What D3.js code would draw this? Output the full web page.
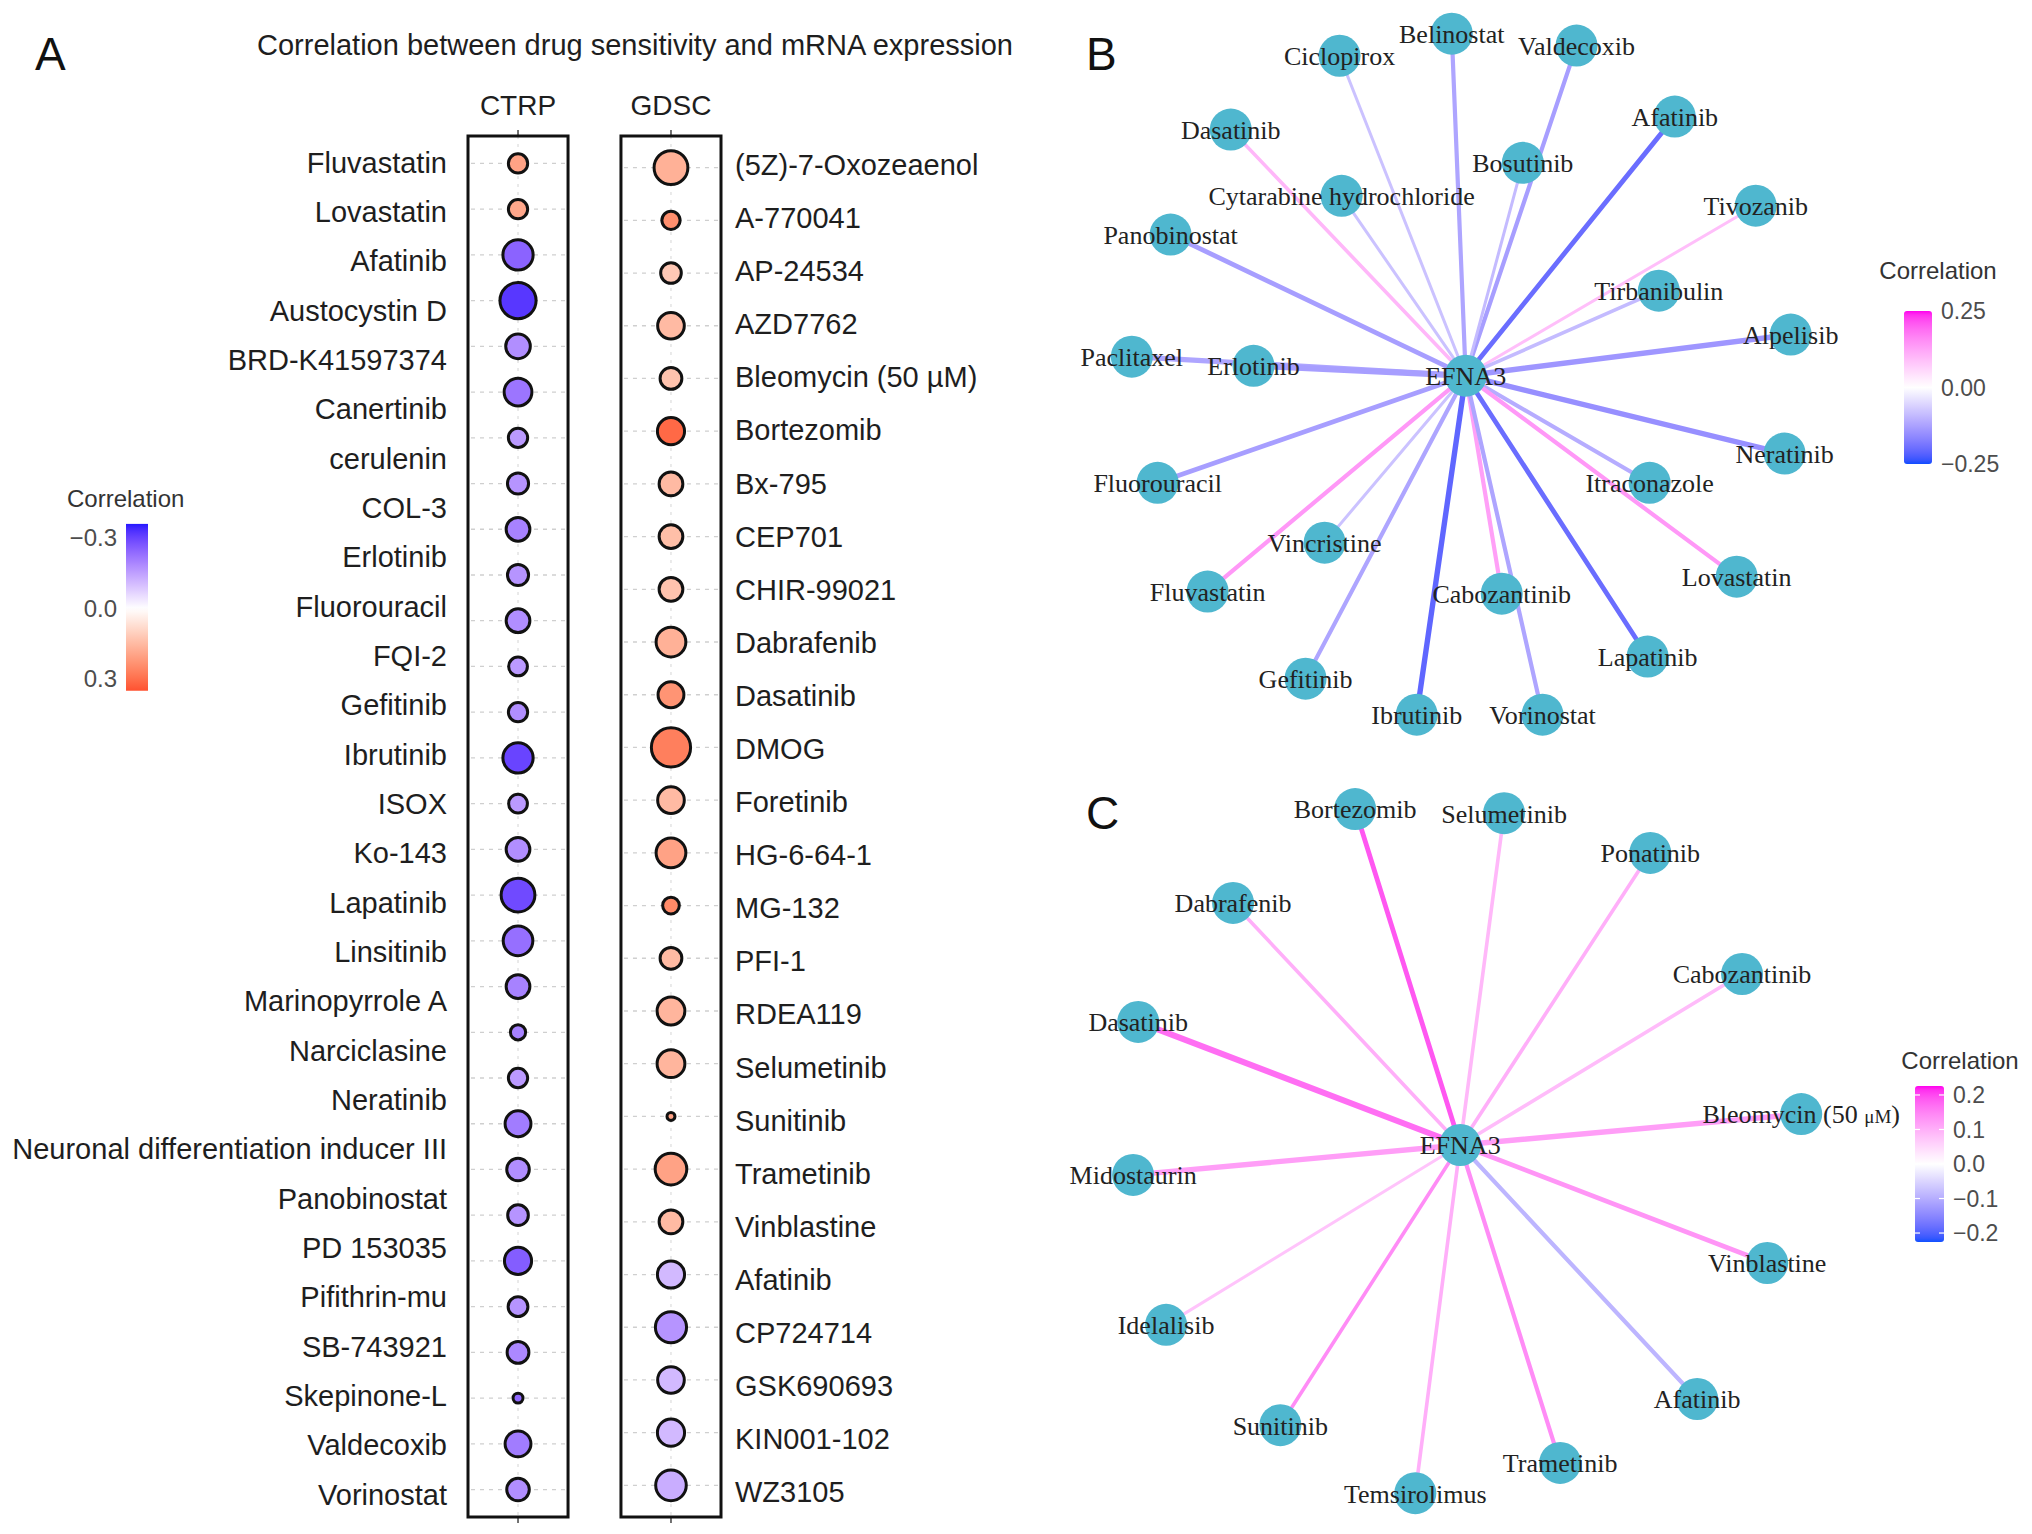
<!DOCTYPE html>
<html><head><meta charset="utf-8">
<script src="https://cdn.jsdelivr.net/npm/d3@7"></script>
<style>body{margin:0;background:#fff}</style>
</head><body><svg id="fig" width="2032" height="1534"></svg>
<script>
// ---------------- Panel A data ----------------
const ctrpDrugs = ["Fluvastatin","Lovastatin","Afatinib","Austocystin D","BRD-K41597374","Canertinib","cerulenin","COL-3","Erlotinib","Fluorouracil","FQI-2","Gefitinib","Ibrutinib","ISOX","Ko-143","Lapatinib","Linsitinib","Marinopyrrole A","Narciclasine","Neratinib","Neuronal differentiation inducer III","Panobinostat","PD 153035","Pifithrin-mu","SB-743921","Skepinone-L","Valdecoxib","Vorinostat"];
// the CTRP column of the figure shows 30 points
const ctrpCorr = [0.2,0.19,-0.25,-0.32,-0.18,-0.22,-0.16,-0.17,-0.2,-0.17,-0.18,-0.16,-0.18,-0.3,-0.16,-0.18,-0.29,-0.23,-0.2,-0.2,-0.16,-0.21,-0.18,-0.17,-0.26,-0.17,-0.19,-0.24,-0.21,-0.18];
const ctrpSig = [6.3,6.3,14.1,19.6,9.7,12.1,6.3,7.4,9.1,7.4,9.1,6.0,6.3,14.1,6.0,9.1,17.3,13.6,9.1,4.2,6.3,10.6,8.3,7.1,11.6,6.6,7.8,2.1,10.6,8.3];
const gdscDrugs = ["(5Z)-7-Oxozeaenol","A-770041","AP-24534","AZD7762","Bleomycin (50 µM)","Bortezomib","Bx-795","CEP701","CHIR-99021","Dabrafenib","Dasatinib","DMOG","Foretinib","HG-6-64-1","MG-132","PFI-1","RDEA119","Selumetinib","Sunitinib","Trametinib","Vinblastine","Afatinib","CP724714","GSK690693","KIN001-102","WZ3105"];
const gdscCorr = [0.17,0.24,0.12,0.15,0.13,0.31,0.15,0.14,0.13,0.17,0.23,0.27,0.15,0.2,0.25,0.15,0.16,0.16,0.2,0.2,0.15,-0.11,-0.17,-0.11,-0.11,-0.13];
const gdscSig = [17.3,5.7,7.1,11.2,7.8,11.6,9.1,9.1,9.1,13.7,10.6,22.8,11.2,13.7,4.9,7.8,12.1,12.1,1.5,15.3,9.1,11.6,14.9,11.2,11.6,14.4];
const sources = ["CTRP","GDSC"];
const corrTicksA = [-0.3, 0, 0.3];

// ---------------- Panel B data ----------------
const hubName = "EFNA3";
const netBDrugs = ["Belinostat","Ciclopirox","Valdecoxib","Afatinib","Dasatinib","Bosutinib","Cytarabine hydrochloride","Tivozanib","Panobinostat","Tirbanibulin","Alpelisib","Paclitaxel","Erlotinib","Neratinib","Fluorouracil","Itraconazole","Vincristine","Lovastatin","Fluvastatin","Cabozantinib","Gefitinib","Lapatinib","Ibrutinib","Vorinostat"];
const netBCorr = [-0.12,-0.08,-0.13,-0.2,0.1,-0.09,-0.08,0.09,-0.13,-0.09,-0.14,-0.12,-0.13,-0.15,-0.13,-0.11,-0.08,0.14,0.14,0.13,-0.12,-0.2,-0.21,-0.12];
const netBSig = [7,5,7,8,6,5,5,5,8,6,9,9,10,9,8,7,5,7,7,7,7,8,9,7];
const netBLayoutX = [-0.041,-0.371,0.326,0.615,-0.691,0.168,-0.365,0.853,-0.868,0.568,0.956,-0.982,-0.624,0.938,-0.906,0.541,-0.415,0.797,-0.759,0.106,-0.471,0.535,-0.144,0.226];
const netBLayoutY = [-1.006,-0.941,-0.971,-0.762,-0.724,-0.626,-0.529,-0.5,-0.415,-0.25,-0.121,-0.056,-0.029,0.229,0.315,0.315,0.491,0.591,0.635,0.641,0.891,0.826,0.997,0.997];
const corrTicksB = [0.25, 0, -0.25];

// ---------------- Panel C data ----------------
const netCDrugs = ["Bortezomib","Selumetinib","Ponatinib","Dabrafenib","Cabozantinib","Dasatinib","Bleomycin (50 μM)","Midostaurin","Vinblastine","Idelalisib","Afatinib","Sunitinib","Trametinib","Temsirolimus"];
const netCCorr = [0.19,0.09,0.1,0.1,0.085,0.17,0.12,0.12,0.13,0.075,-0.09,0.14,0.14,0.1];
const netCSig = [8,6,6,6,6,10,9,9,8,5,7,6,7,6];
const netCLayoutX = [-0.309,0.129,0.559,-0.668,0.829,-0.947,1.003,-0.962,0.903,-0.865,0.697,-0.529,0.294,-0.132];
const netCLayoutY = [-0.988,-0.976,-0.859,-0.712,-0.503,-0.362,-0.091,0.088,0.347,0.529,0.747,0.824,0.935,1.024];
const corrTicksC = [0.2, 0.1, 0, -0.1, -0.2];

// ---------------- drawing ----------------
const svg = d3.select("#fig");
const defs = svg.append("defs");
const sans = "'Liberation Sans', Arial, Helvetica, sans-serif";
const serif = "'Liberation Serif', 'Times New Roman', serif";
const ink = "#1e1e1e";

function panelLetter(t, x, y) {
  svg.append("text").attr("x", x).attr("y", y).text(t)
    .attr("font-family", sans).attr("font-size", 46).attr("fill", "#111");
}

// ===== Panel A =====
panelLetter("A", 35, 70);
svg.append("text").attr("x", 635).attr("y", 55).attr("text-anchor", "middle")
  .attr("font-family", sans).attr("font-size", 29).attr("fill", ink)
  .text("Correlation between drug sensitivity and mRNA expression");

const colorA = d3.scaleLinear().domain([-0.36, 0, 0.36])
  .range(["#2418ff", "#ffffff", "#ff4a2a"]).interpolate(d3.interpolateLab).clamp(true);
const rA = d3.scaleSqrt().domain([0, 25]).range([0, 22]);
const boxTop = 136, boxBot = 1517;
const xCol = d3.scaleBand().domain(sources).range([468, 721]).paddingInner(0.346).paddingOuter(0);
const bw = xCol.bandwidth();

const cols = [
  {src: "CTRP", corr: ctrpCorr, sig: ctrpSig, labels: ctrpDrugs, side: "left"},
  {src: "GDSC", corr: gdscCorr, sig: gdscSig, labels: gdscDrugs, side: "right"}
];
cols.forEach(c => {
  const x0 = xCol(c.src), cx = x0 + bw / 2;
  const yPt = d3.scalePoint().domain(d3.range(c.corr.length)).range([boxTop, boxBot]).padding(0.6);
  const yLab = d3.scalePoint().domain(c.labels).range([133, 1524]).padding(0.6);
  const g = svg.append("g");
  g.append("text").attr("x", cx).attr("y", 115).attr("text-anchor", "middle")
    .attr("font-family", sans).attr("font-size", 28).attr("fill", ink).text(c.src);
  g.selectAll("line.h").data(d3.range(c.corr.length)).join("line")
    .attr("x1", x0 + 3).attr("x2", x0 + bw - 3)
    .attr("y1", d => yPt(d)).attr("y2", d => yPt(d))
    .attr("stroke", "#cfcfcf").attr("stroke-width", 1.3).attr("stroke-dasharray", "4,5");
  g.append("line").attr("x1", cx).attr("x2", cx).attr("y1", boxTop).attr("y2", boxBot)
    .attr("stroke", "#dcdcdc").attr("stroke-width", 1.2).attr("stroke-dasharray", "3,5");
  g.append("line").attr("x1", cx).attr("x2", cx).attr("y1", boxTop - 6).attr("y2", boxTop)
    .attr("stroke", "#444").attr("stroke-width", 1.5);
  g.append("line").attr("x1", cx).attr("x2", cx).attr("y1", boxBot).attr("y2", boxBot + 6)
    .attr("stroke", "#444").attr("stroke-width", 1.5);
  g.selectAll("circle").data(c.corr.map((v, i) => ({v, s: c.sig[i], i}))).join("circle")
    .attr("cx", cx).attr("cy", d => yPt(d.i)).attr("r", d => Math.max(2, rA(d.s) - 1.4))
    .attr("fill", d => colorA(d.v)).attr("stroke", "#111").attr("stroke-width", 3);
  g.append("rect").attr("x", x0).attr("y", boxTop).attr("width", bw).attr("height", boxBot - boxTop)
    .attr("fill", "none").attr("stroke", "#111").attr("stroke-width", 3);
  g.selectAll("text.lab").data(c.labels).join("text").attr("class", "lab")
    .attr("x", c.side === "left" ? x0 - 21 : x0 + bw + 14)
    .attr("y", d => yLab(d)).attr("dy", "0.35em")
    .attr("text-anchor", c.side === "left" ? "end" : "start")
    .attr("font-family", sans).attr("font-size", 29).attr("fill", ink).text(d => d);
});

function vGradient(id, scale, vTop, vBot) {
  const gr = defs.append("linearGradient").attr("id", id).attr("x1", 0).attr("y1", 0).attr("x2", 0).attr("y2", 1);
  d3.range(0, 41).forEach(k => {
    const v = vTop + (vBot - vTop) * k / 40;
    gr.append("stop").attr("offset", (k / 40 * 100) + "%").attr("stop-color", scale(v));
  });
}
{
  const g = svg.append("g");
  g.append("text").attr("x", 67).attr("y", 507).attr("font-family", sans).attr("font-size", 24)
    .attr("fill", "#333").text("Correlation");
  const yL = d3.scaleLinear().domain([-0.3, 0.3]).range([538, 679]);
  vGradient("gradA", colorA, -0.36, 0.35);
  g.append("rect").attr("x", 126).attr("y", yL(-0.36)).attr("width", 22)
    .attr("height", yL(0.35) - yL(-0.36)).attr("fill", "url(#gradA)");
  g.selectAll("text.t").data(corrTicksA).join("text").attr("class", "t")
    .attr("x", 117).attr("y", d => yL(d)).attr("dy", "0.35em").attr("text-anchor", "end")
    .attr("font-family", sans).attr("font-size", 24).attr("fill", "#4d4d4d")
    .text(d => d3.format(".1f")(d));
}

// ===== Networks =====
const nodeFill = "#4fb7cf";
function drawNetwork(opts) {
  const {hub, drugs, corr, sig, lx, ly, color} = opts;
  const sx = d3.scaleLinear().domain([-1, 1]).range([hub[0] - 340, hub[0] + 340]);
  const sy = d3.scaleLinear().domain([-1, 1]).range([hub[1] - 340, hub[1] + 340]);
  const wScale = d3.scaleLinear().domain([0, 10]).range([0, 6]);
  const nodes = drugs.map((d, i) => ({name: d, x: sx(lx[i]), y: sy(ly[i]), c: corr[i], s: sig[i]}));
  const g = svg.append("g");
  g.selectAll("line").data(nodes).join("line")
    .attr("x1", hub[0]).attr("y1", hub[1]).attr("x2", d => d.x).attr("y2", d => d.y)
    .attr("stroke", d => color(d.c)).attr("stroke-width", d => wScale(d.s)).attr("stroke-linecap", "round");
  const all = nodes.concat([{name: hubName, x: hub[0], y: hub[1]}]);
  g.selectAll("circle").data(all).join("circle")
    .attr("cx", d => d.x).attr("cy", d => d.y).attr("r", 21).attr("fill", nodeFill);
  const t = g.selectAll("text").data(all).join("text")
    .attr("x", d => d.x).attr("y", d => d.y).attr("dy", "0.36em").attr("text-anchor", "middle")
    .attr("font-family", serif).attr("font-size", 26).attr("fill", "#222");
  t.each(function(d) {
    const el = d3.select(this);
    const m = d.name.match(/^(.*\()(\d+ )(μM)(\))$/);
    if (m) {
      el.append("tspan").text(m[1] + m[2]);
      el.append("tspan").attr("font-size", 19).text(m[3]);
      el.append("tspan").text(m[4]);
    } else el.text(d.name);
  });
}
function legend(opts) {
  const {id, color, x, y, w, h, vTop, vBot, ticks, fmt, titleX, titleY, tickMarks} = opts;
  const g = svg.append("g");
  g.append("text").attr("x", titleX).attr("y", titleY).attr("text-anchor", "middle")
    .attr("font-family", sans).attr("font-size", 24).attr("fill", "#333").text("Correlation");
  vGradient(id, color, vTop, vBot);
  g.append("rect").attr("x", x).attr("y", y).attr("width", w).attr("height", h)
    .attr("rx", 3).attr("fill", `url(#${id})`);
  const yL = d3.scaleLinear().domain([vTop, vBot]).range([y, y + h]);
  if (tickMarks) {
    ticks.forEach(v => {
      g.append("line").attr("x1", x).attr("x2", x + 5).attr("y1", yL(v)).attr("y2", yL(v)).attr("stroke", "#fff").attr("stroke-width", 1.2);
      g.append("line").attr("x1", x + w - 5).attr("x2", x + w).attr("y1", yL(v)).attr("y2", yL(v)).attr("stroke", "#fff").attr("stroke-width", 1.2);
    });
  }
  g.selectAll("text.t").data(ticks).join("text").attr("class", "t")
    .attr("x", x + w + 9).attr("y", d => yL(d)).attr("dy", "0.35em")
    .attr("font-family", sans).attr("font-size", 23).attr("fill", "#4d4d4d")
    .text(d => d3.format(fmt)(d));
}

// ===== Panel B =====
panelLetter("B", 1086, 70);
const colorB = d3.scaleLinear().domain([-0.25, 0, 0.25])
  .range(["#0f4cff", "#ffffff", "#ff00ee"]).interpolate(d3.interpolateLab).clamp(true);
drawNetwork({hub: [1465.7, 375.7], drugs: netBDrugs, corr: netBCorr, sig: netBSig, lx: netBLayoutX, ly: netBLayoutY, color: colorB});
legend({id: "gradB", color: colorB, x: 1904, y: 311, w: 28, h: 153, vTop: 0.25, vBot: -0.25,
  ticks: corrTicksB, fmt: ".2f", titleX: 1938, titleY: 279, tickMarks: false});

// ===== Panel C =====
panelLetter("C", 1086, 829);
const colorC = d3.scaleLinear().domain([-0.226, 0, 0.226])
  .range(["#1050ff", "#ffffff", "#ff00ee"]).interpolate(d3.interpolateLab).clamp(true);
drawNetwork({hub: [1460.2, 1145], drugs: netCDrugs, corr: netCCorr, sig: netCSig, lx: netCLayoutX, ly: netCLayoutY, color: colorC});
legend({id: "gradC", color: colorC, x: 1915, y: 1086, w: 29, h: 156, vTop: 0.226, vBot: -0.226,
  ticks: corrTicksC, fmt: ".1f", titleX: 1960, titleY: 1069, tickMarks: true});
</script>
</body></html>
